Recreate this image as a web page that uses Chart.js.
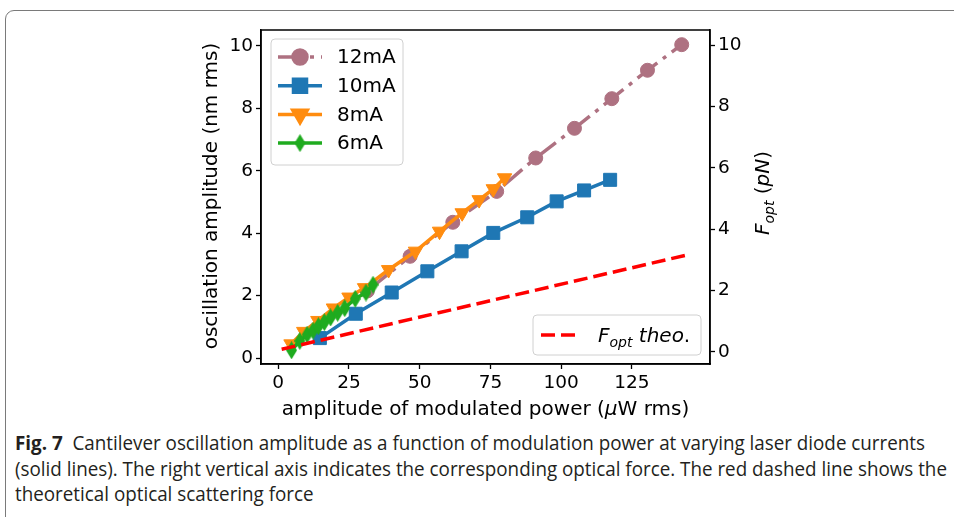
<!DOCTYPE html>
<html>
<head>
<meta charset="utf-8">
<script src="https://cdn.jsdelivr.net/npm/chart.js@4.4.1/dist/chart.umd.min.js"></script>
<style>
  html, body { margin: 0; padding: 0; background: #fff; width: 954px; height: 517px; overflow: hidden; }
  #frame { position: absolute; left: 5px; top: 10px; width: 1000px; height: 600px; border: 1px solid #7a7a7a; border-radius: 9px; }
  #wrap { position: absolute; left: 0; top: 0; width: 954px; height: 425px; }
  #caption { position: absolute; left: 15px; top: 430px; font-family: "Liberation Sans Narrow", "Open Sans", sans-serif;
             font-size: 19.5px; line-height: 25.5px; color: #231f20; white-space: nowrap; transform-origin: 0 0; }
  #caption b { font-weight: bold; }
</style>
</head>
<body>
<div id="frame"></div>
<div id="wrap"><canvas id="c" width="954" height="425"></canvas></div>
<div id="caption"><span id="line1"><b>Fig. 7</b>&nbsp; Cantilever oscillation amplitude as a function of modulation power at varying laser diode currents</span><br>(solid lines). The right vertical axis indicates the corresponding optical force. The red dashed line shows the<br>theoretical optical scattering force</div>

<script>
// ---- data: modulated power (µW rms) vs oscillation amplitude (nm rms) ----
const xTicks = [0, 25, 50, 75, 100, 125];
const yTicksLeft = [0, 2, 4, 6, 8, 10];
const yTicksRight = [0, 2, 4, 6, 8, 10];

const power12 = [31.5, 46.6, 61.7, 77.2, 91.0, 104.7, 117.9, 130.5, 142.6];
const amp12   = [2.15, 3.26, 4.35, 5.34, 6.41, 7.36, 8.31, 9.22, 10.04];

const power10 = [14.7, 27.4, 40.1, 52.7, 64.8, 76.0, 88.0, 98.4, 108.1, 117.3];
const amp10   = [0.64, 1.42, 2.10, 2.78, 3.42, 4.01, 4.51, 5.02, 5.37, 5.71];

const power8 = [4.5, 9.0, 14.0, 19.5, 25.0, 30.5, 39.0, 48.5, 57.0, 65.0, 71.0, 76.0, 80.0];
const amp8   = [0.45, 0.85, 1.20, 1.60, 1.95, 2.25, 2.83, 3.42, 4.06, 4.65, 5.07, 5.42, 5.77];

const power6 = [4.7, 7.6, 10.2, 12.3, 14.2, 16.3, 18.5, 21.0, 23.5, 27.2, 31.0, 33.5];
const amp6   = [0.25, 0.55, 0.75, 0.88, 1.02, 1.15, 1.30, 1.45, 1.60, 1.90, 2.10, 2.35];

// theoretical optical force (pN), right axis
const powerTheo = [1.2, 145.6];
const forceTheo = [0.08, 3.18];

const seriesLabels = ['12mA', '10mA', '8mA', '6mA'];

// ---- styling ----
const FONT = "'DejaVu Sans', sans-serif";
const LABEL_SIZE = 20;
const C12 = '#ae7181', C10 = '#1f77b4', C8 = '#ff8c0f', C6 = '#1fab1f', CTHEO = '#ff0000';

function toXY(xs, ys) { return xs.map((x, i) => ({ x: x, y: ys[i] })); }

function thinDiamond(color) {
  const c = document.createElement('canvas');
  c.width = 11; c.height = 18;
  const g = c.getContext('2d');
  g.fillStyle = color;
  g.beginPath();
  g.moveTo(5.5, 0); g.lineTo(11, 9); g.lineTo(5.5, 18); g.lineTo(0, 9);
  g.closePath(); g.fill();
  return c;
}
const diamondImg = thinDiamond(C6);

const lineStyle = (color) => ({
  borderColor: color, backgroundColor: color, pointBackgroundColor: color,
  pointBorderColor: color, borderWidth: 3.5, pointBorderWidth: 1, tension: 0, fill: false
});

const datasets = [
  Object.assign({ label: 'theo', data: toXY(powerTheo, forceTheo), yAxisID: 'y2', order: 0,
    borderDash: [14, 6], pointRadius: 0 }, lineStyle(CTHEO)),
  Object.assign({ label: seriesLabels[3], data: toXY(power6, amp6), yAxisID: 'y', order: 1,
    pointStyle: diamondImg, pointRadius: 6 }, lineStyle(C6)),
  Object.assign({ label: seriesLabels[2], data: toXY(power8, amp8), yAxisID: 'y', order: 2,
    pointStyle: 'triangle', pointRotation: 180, pointRadius: 8.3 }, lineStyle(C8)),
  Object.assign({ label: seriesLabels[1], data: toXY(power10, amp10), yAxisID: 'y', order: 3,
    pointStyle: 'rect', pointRadius: 9.2 }, lineStyle(C10)),
  Object.assign({ label: seriesLabels[0], data: toXY(power12, amp12), yAxisID: 'y', order: 4,
    pointStyle: 'circle', pointRadius: 7, borderDash: [25, 7, 4, 7] }, lineStyle(C12))
];

// text with an italic math part and a subscript, drawn left-to-right from (x, y)
function drawFopt(ctx, x, y, size, tail) {
  ctx.textBaseline = 'alphabetic';
  ctx.textAlign = 'left';
  ctx.font = `italic ${size}px ${FONT}`;
  ctx.fillText('F', x, y);
  x += ctx.measureText('F').width;
  const sub = Math.round(size * 0.7);
  ctx.font = `italic ${sub}px ${FONT}`;
  ctx.fillText('opt', x, y + size * 0.25);
  x += ctx.measureText('opt').width;
  for (const part of tail) {
    ctx.font = `${part.italic ? 'italic ' : ''}${size}px ${FONT}`;
    ctx.fillText(part.t, x, y);
    x += ctx.measureText(part.t).width;
  }
  return x;
}
function measureFopt(ctx, size, tail) {
  ctx.font = `italic ${size}px ${FONT}`;
  let w = ctx.measureText('F').width;
  ctx.font = `italic ${Math.round(size * 0.7)}px ${FONT}`;
  w += ctx.measureText('opt').width;
  for (const part of tail) {
    ctx.font = `${part.italic ? 'italic ' : ''}${size}px ${FONT}`;
    w += ctx.measureText(part.t).width;
  }
  return w;
}

const decorations = {
  id: 'decorations',
  afterDatasetsDraw(chart) {
    const { ctx, chartArea: a } = chart;
    ctx.save();

    // axes box
    ctx.strokeStyle = '#000';
    ctx.lineWidth = 1.5;
    ctx.setLineDash([]);
    ctx.strokeRect(a.left, a.top, a.right - a.left, a.bottom - a.top);

    // ---- series legend (upper left) ----
    const bx = a.left + 10, by = a.top + 9, bw = 132, bh = 126;
    ctx.beginPath();
    ctx.roundRect(bx, by, bw, bh, 4);
    ctx.fillStyle = 'rgba(255,255,255,0.85)';
    ctx.fill();
    ctx.strokeStyle = '#d0d0d0';
    ctx.lineWidth = 1;
    ctx.stroke();

    const order = [4, 3, 2, 1];  // 12mA, 10mA, 8mA, 6mA
    order.forEach((di, row) => {
      const ds = chart.data.datasets[di];
      const cy = by + 18 + row * 28.7;
      const x0 = bx + 7, x1 = bx + 51;
      ctx.strokeStyle = ds.borderColor;
      ctx.lineWidth = ds.borderWidth;
      ctx.setLineDash(ds.borderDash || []);
      ctx.beginPath();
      ctx.moveTo(x0, cy); ctx.lineTo(x1, cy);
      ctx.stroke();
      ctx.setLineDash([]);
      ctx.fillStyle = ds.backgroundColor;
      ctx.strokeStyle = ds.borderColor;
      Chart.helpers.drawPoint(ctx, {
        pointStyle: ds.pointStyle, radius: ds.pointRadius,
        rotation: ds.pointRotation || 0, borderWidth: 1
      }, (x0 + x1) / 2, cy);
      ctx.fillStyle = '#000';
      ctx.font = `${LABEL_SIZE}px ${FONT}`;
      ctx.textAlign = 'left';
      ctx.textBaseline = 'middle';
      ctx.fillText(ds.label, bx + 66, cy + 1);
    });

    // ---- theory legend (lower right) ----
    const tw = 168, th = 40;
    const tx = a.right - 9 - tw, ty = a.bottom - 9 - th;
    ctx.beginPath();
    ctx.roundRect(tx, ty, tw, th, 4);
    ctx.fillStyle = 'rgba(255,255,255,0.85)';
    ctx.fill();
    ctx.strokeStyle = '#d0d0d0';
    ctx.lineWidth = 1;
    ctx.stroke();
    const theo = chart.data.datasets[0];
    ctx.strokeStyle = theo.borderColor;
    ctx.lineWidth = theo.borderWidth;
    ctx.setLineDash(theo.borderDash);
    ctx.beginPath();
    ctx.moveTo(tx + 8, ty + 20); ctx.lineTo(tx + 46, ty + 20);
    ctx.stroke();
    ctx.setLineDash([]);
    ctx.fillStyle = '#000';
    drawFopt(ctx, tx + 65, ty + 27, LABEL_SIZE, [{ t: ' theo', italic: true }, { t: '.', italic: false }]);

    // ---- axis titles ----
    ctx.fillStyle = '#000';
    // bottom
    const pre = 'amplitude of modulated power (', mu = 'μ', post = 'W rms)';
    ctx.font = `${LABEL_SIZE}px ${FONT}`;
    const wPre = ctx.measureText(pre).width, wPost = ctx.measureText(post).width;
    ctx.font = `italic ${LABEL_SIZE}px ${FONT}`;
    const wMu = ctx.measureText(mu).width;
    let xs = (a.left + a.right) / 2 - (wPre + wMu + wPost) / 2;
    const yb = a.bottom + 51;
    ctx.textAlign = 'left'; ctx.textBaseline = 'alphabetic';
    ctx.font = `${LABEL_SIZE}px ${FONT}`; ctx.fillText(pre, xs, yb); xs += wPre;
    ctx.font = `italic ${LABEL_SIZE}px ${FONT}`; ctx.fillText(mu, xs, yb); xs += wMu;
    ctx.font = `${LABEL_SIZE}px ${FONT}`; ctx.fillText(post, xs, yb);

    // left
    ctx.save();
    ctx.translate(a.left - 49, (a.top + a.bottom) / 2 - 1);
    ctx.rotate(-Math.PI / 2);
    ctx.font = `${LABEL_SIZE}px ${FONT}`;
    ctx.textAlign = 'center'; ctx.textBaseline = 'middle';
    ctx.fillText('oscillation amplitude (nm rms)', 0, 0);
    ctx.restore();

    // right
    ctx.save();
    ctx.translate(a.right + 52, (a.top + a.bottom) / 2 - 4);
    ctx.rotate(-Math.PI / 2);
    const rtail = [{ t: ' (', italic: false }, { t: 'pN', italic: true }, { t: ')', italic: false }];
    const rw = measureFopt(ctx, LABEL_SIZE, rtail);
    drawFopt(ctx, -rw / 2, 7, LABEL_SIZE, rtail);
    ctx.restore();

    ctx.restore();
  }
};

const tickFont = { family: FONT, size: 18.5 };
const axisCommon = {
  type: 'linear',
  grid: { drawOnChartArea: false, drawTicks: true, tickLength: 5, tickColor: '#000', tickWidth: 1.3 },
  border: { display: true, color: '#000', width: 1.5 },
  ticks: { font: tickFont, color: '#000', padding: 3 },
  title: { display: false }
};

new Chart(document.getElementById('c'), {
  type: 'line',
  data: { datasets: datasets },
  options: {
    responsive: false,
    animation: false,
    devicePixelRatio: 1,
    layout: { padding: { top: 30, bottom: 21, left: 0, right: 0 } },
    plugins: { legend: { display: false }, tooltip: { enabled: false } },
    scales: {
      x: Object.assign({}, axisCommon, {
        position: 'bottom', min: -6.1, max: 152.6,
        afterBuildTicks: s => { s.ticks = xTicks.map(v => ({ value: v })); },
        afterFit: s => { s.height = 40; }
      }),
      y: Object.assign({}, axisCommon, {
        position: 'left', min: -0.19, max: 10.51,
        afterBuildTicks: s => { s.ticks = yTicksLeft.map(v => ({ value: v })); },
        afterFit: s => { s.width = 261; }
      }),
      y2: Object.assign({}, axisCommon, {
        position: 'right', min: -0.40, max: 10.49,
        afterBuildTicks: s => { s.ticks = yTicksRight.map(v => ({ value: v })); },
        afterFit: s => { s.width = 244; }
      })
    }
  },
  plugins: [decorations]
});

// caption: stretch the first line to the text block width
(function fitCaption() {
  const w = document.getElementById('line1').getBoundingClientRect().width;
  if (w > 0) document.getElementById('caption').style.transform = `scaleX(${910 / w})`;
})();
</script>
</body>
</html>
